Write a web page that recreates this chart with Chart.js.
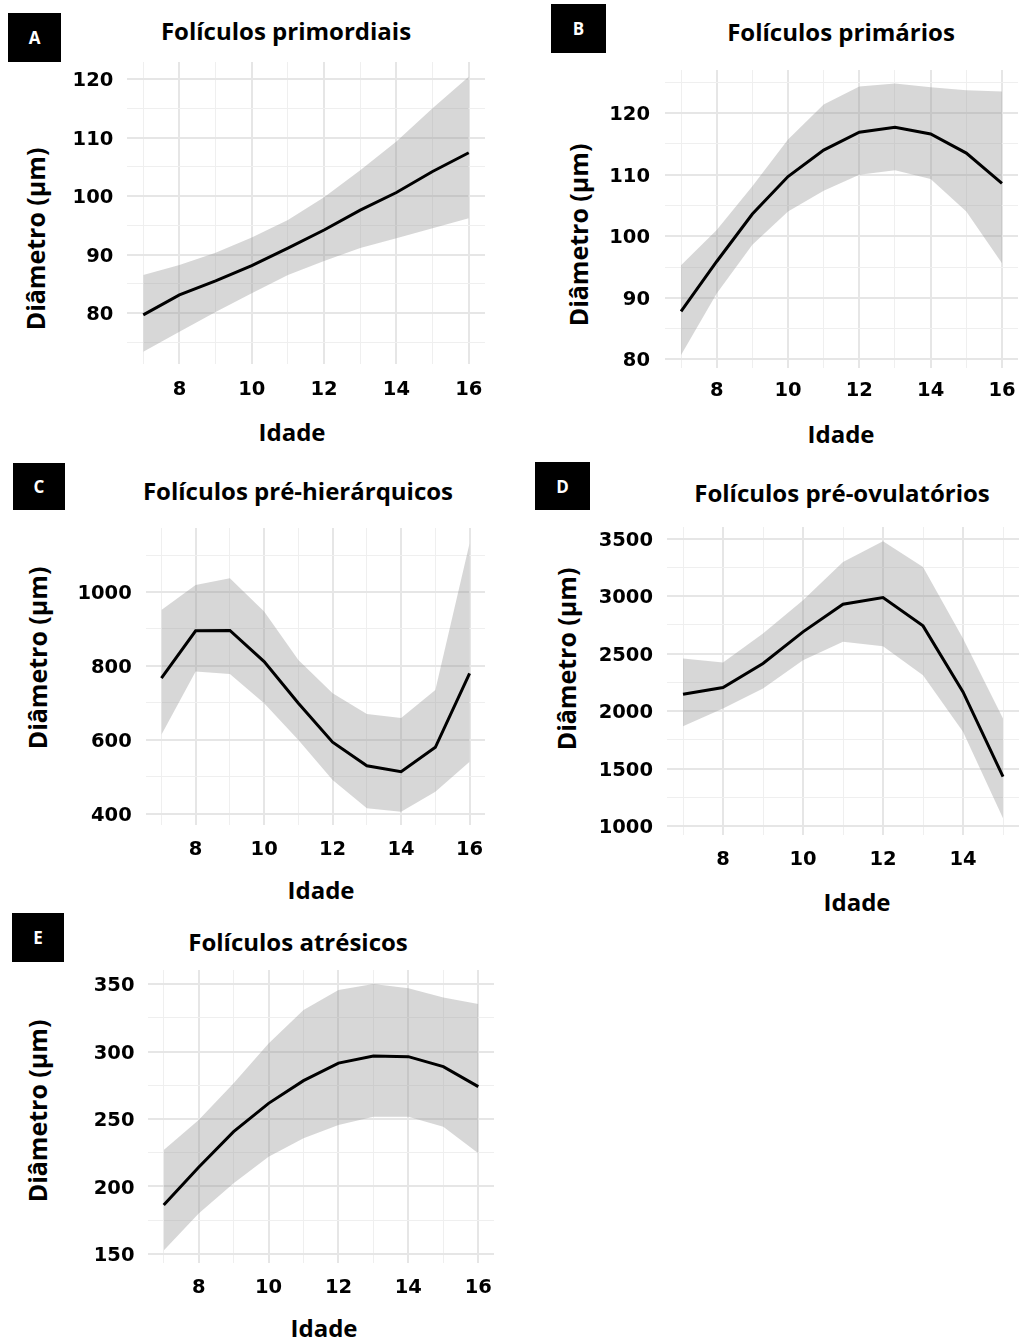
<!DOCTYPE html>
<html>
<head>
<meta charset="utf-8">
<script src="https://cdn.jsdelivr.net/npm/chart.js@4.4.1/dist/chart.umd.min.js"></script>
<style>
  body { margin: 0; background: #fff; width: 1019px; height: 1341px; position: relative; overflow: hidden; font-family: "Open Sans", sans-serif; }
  .badge { position: absolute; background: #000; color: #fff; font: bold 17px "Open Sans", sans-serif; display: flex; align-items: center; justify-content: center; }
  .title { position: absolute; font: bold 24px/24px "Open Sans", sans-serif; white-space: nowrap; transform: translateX(-50%); }
  .ytitle { position: absolute; font: bold 25px/25px "Open Sans", sans-serif; white-space: nowrap; transform: translate(-50%, -50%) rotate(-90deg); }
  .xtitle { position: absolute; font: bold 24px/24px "Open Sans", sans-serif; white-space: nowrap; transform: translateX(-50%); }
</style>
</head>
<body>

<div class="badge" style="left:8px;top:13px;width:53px;height:49px">A</div>
<div class="badge" style="left:551px;top:4px;width:55px;height:49px">B</div>
<div class="badge" style="left:13px;top:463px;width:52px;height:47px">C</div>
<div class="badge" style="left:535px;top:462px;width:55px;height:48px">D</div>
<div class="badge" style="left:12px;top:913px;width:52px;height:49px">E</div>

<div class="title" style="left:286px;top:19px">Folículos primordiais</div>
<div class="title" style="left:841px;top:20px">Folículos primários</div>
<div class="title" style="left:298px;top:479px">Folículos pré-hierárquicos</div>
<div class="title" style="left:842px;top:481px">Folículos pré-ovulatórios</div>
<div class="title" style="left:298px;top:930px">Folículos atrésicos</div>

<div class="ytitle" style="left:35px;top:239px">Diâmetro (µm)</div>
<div class="ytitle" style="left:578px;top:235px">Diâmetro (µm)</div>
<div class="ytitle" style="left:37px;top:658px">Diâmetro (µm)</div>
<div class="ytitle" style="left:566px;top:659px">Diâmetro (µm)</div>
<div class="ytitle" style="left:37px;top:1111px">Diâmetro (µm)</div>

<div class="xtitle" style="left:292px;top:420px">Idade</div>
<div class="xtitle" style="left:841px;top:422px">Idade</div>
<div class="xtitle" style="left:321px;top:878px">Idade</div>
<div class="xtitle" style="left:857px;top:890px">Idade</div>
<div class="xtitle" style="left:324px;top:1316px">Idade</div>

<script>
// idades (x)
const idade = [7, 8, 9, 10, 11, 12, 13, 14, 15, 16];
const idadeD = [7, 8, 9, 10, 11, 12, 13, 14, 15];
const xLabels = [8, 10, 12, 14, 16];
const xLabelsD = [8, 10, 12, 14];

// A - primordiais
const fitA  = [79.7, 83.1, 85.5, 88.1, 91.1, 94.2, 97.6, 100.6, 104.2, 107.4];
const lowA  = [73.4, 76.8, 80.2, 83.4, 86.5, 88.9, 91.1, 92.8, 94.5, 96.2];
const highA = [86.5, 88.2, 90.3, 92.9, 95.9, 99.8, 104.4, 109.3, 115.0, 120.4];
const yLabelsA = [80, 90, 100, 110, 120];
const yGridA = [75, 80, 85, 90, 95, 100, 105, 110, 115, 120];

// B - primarios
const fitB  = [87.8, 95.9, 103.6, 109.7, 114.0, 116.9, 117.7, 116.6, 113.5, 108.6];
const lowB  = [80.7, 90.7, 98.6, 104.0, 107.4, 110.0, 110.7, 109.3, 104.0, 95.6];
const highB = [95.3, 101.0, 108.1, 115.7, 121.4, 124.3, 124.8, 124.2, 123.7, 123.5];
const yLabelsB = [80, 90, 100, 110, 120];
const yGridB = [80, 85, 90, 95, 100, 105, 110, 115, 120, 125];

// C - pre-hierarquicos
const fitC  = [767, 895, 896, 812, 699, 594, 530, 514, 580, 780];
const lowC  = [614, 785, 778, 699, 600, 492, 415, 406, 460, 541];
const highC = [951, 1019, 1037, 947, 816, 726, 670, 659, 735, 1132];
const yLabelsC = [400, 600, 800, 1000];
const yGridC = [400, 500, 600, 700, 800, 900, 1000, 1100];

// D - pre-ovulatorios
const fitD  = [2147, 2205, 2414, 2689, 2929, 2987, 2741, 2167, 1429];
const lowD  = [1869, 2023, 2196, 2443, 2602, 2564, 2312, 1820, 1067];
const highD = [2457, 2422, 2674, 2964, 3297, 3477, 3254, 2631, 1936];
const yLabelsD = [1000, 1500, 2000, 2500, 3000, 3500];
const yGridD = [1000, 1250, 1500, 1750, 2000, 2250, 2500, 2750, 3000, 3250, 3500];

// E - atresicos
const fitE  = [186.3, 214.2, 240.6, 261.6, 278.4, 291.4, 296.7, 296.2, 288.8, 274.0];
const lowE  = [152.5, 180.0, 202.3, 222.0, 235.7, 245.6, 251.7, 251.7, 244.3, 224.6];
const highE = [227.0, 249.3, 276.4, 306.0, 330.7, 345.5, 350.0, 346.8, 340.0, 335.2];
const yLabelsE = [150, 200, 250, 300, 350];
const yGridE = [150, 175, 200, 225, 250, 275, 300, 325, 350];

const tickFont = { family: '"DejaVu Sans", sans-serif', size: 19.5, weight: 'bold' };

function drawPanel(p) {
  const w = p.area.w + 90, h = p.area.h + 75;
  const cv = document.createElement('canvas');
  cv.width = w;
  cv.height = h;
  cv.style.cssText = 'position:absolute;left:' + (p.area.l - 70) + 'px;top:' + (p.area.t - 30) + 'px;width:' + w + 'px;height:' + h + 'px';
  document.body.appendChild(cv);

  const pts = ys => p.x.map((x, i) => ({ x: x, y: ys[i] }));
  const gridColor = labels => ctx => (ctx.tick && labels.includes(ctx.tick.value)) ? '#e6e6e6' : '#efefef';
  const gridWidth = labels => ctx => (ctx.tick && labels.includes(ctx.tick.value)) ? 2 : 1;

  new Chart(cv, {
    type: 'line',
    data: {
      datasets: [
        // lower dataset order is drawn on top, so the fitted line sits above the band
        { data: pts(p.low), borderWidth: 0, pointRadius: 0, fill: false, order: 2 },
        { data: pts(p.high), borderWidth: 0, pointRadius: 0, fill: '-1', backgroundColor: 'rgba(150,150,150,0.38)', order: 1 },
        { data: pts(p.fit), borderColor: '#000', borderWidth: 3, pointRadius: 0, fill: false, order: 0 }
      ]
    },
    options: {
      responsive: false,
      animation: false,
      devicePixelRatio: 1,
      layout: { padding: { left: 0, top: 30, right: 20, bottom: 0 } },
      plugins: { legend: { display: false }, tooltip: { enabled: false } },
      scales: {
        x: {
          type: 'linear', min: p.xMin, max: p.xMax,
          afterBuildTicks: s => { s.ticks = p.x.map(v => ({ value: v })); },
          afterFit: s => { s.height = 45; },
          ticks: { autoSkip: false, maxRotation: 0, padding: p.xPad, color: '#000', font: tickFont,
                   callback: v => p.xLabels.includes(v) ? String(v) : '' },
          grid: { drawTicks: false, color: gridColor(p.xLabels), lineWidth: gridWidth(p.xLabels) },
          border: { display: false }
        },
        y: {
          type: 'linear', min: p.yMin, max: p.yMax,
          afterBuildTicks: s => { s.ticks = p.yGrid.map(v => ({ value: v })); },
          afterFit: s => { s.width = 70; },
          ticks: { autoSkip: false, padding: p.yPad, labelOffset: 2, color: '#000', font: tickFont,
                   callback: v => p.yLabels.includes(v) ? String(v) : '' },
          grid: { drawTicks: false, color: gridColor(p.yLabels), lineWidth: gridWidth(p.yLabels) },
          border: { display: false }
        }
      }
    }
  });
}

drawPanel({ area: { l: 127, t: 62, w: 358, h: 302 }, xMin: 6.55, xMax: 16.45, yMin: 71.3, yMax: 122.9,
  x: idade, xLabels: xLabels, yGrid: yGridA, yLabels: yLabelsA, fit: fitA, low: lowA, high: highA, xPad: 13.8, yPad: 13.7 });
drawPanel({ area: { l: 665, t: 70, w: 353, h: 298 }, xMin: 6.55, xMax: 16.45, yMin: 78.6, yMax: 127.0,
  x: idade, xLabels: xLabels, yGrid: yGridB, yLabels: yLabelsB, fit: fitB, low: lowB, high: highB, xPad: 11.5, yPad: 15 });
drawPanel({ area: { l: 146, t: 528, w: 339, h: 297 }, xMin: 6.55, xMax: 16.45, yMin: 370, yMax: 1173,
  x: idade, xLabels: xLabels, yGrid: yGridC, yLabels: yLabelsC, fit: fitC, low: lowC, high: highC, xPad: 12.8, yPad: 14.3 });
drawPanel({ area: { l: 667, t: 527, w: 352, h: 308 }, xMin: 6.6, xMax: 15.4, yMin: 922, yMax: 3601,
  x: idadeD, xLabels: xLabelsD, yGrid: yGridD, yLabels: yLabelsD, fit: fitD, low: lowD, high: highD, xPad: 13.7, yPad: 14 });
drawPanel({ area: { l: 148, t: 970, w: 346, h: 293 }, xMin: 6.55, xMax: 16.45, yMin: 143.3, yMax: 360.4,
  x: idade, xLabels: xLabels, yGrid: yGridE, yLabels: yLabelsE, fit: fitE, low: lowE, high: highE, xPad: 13.5, yPad: 13.5 });
</script>
</body>
</html>
